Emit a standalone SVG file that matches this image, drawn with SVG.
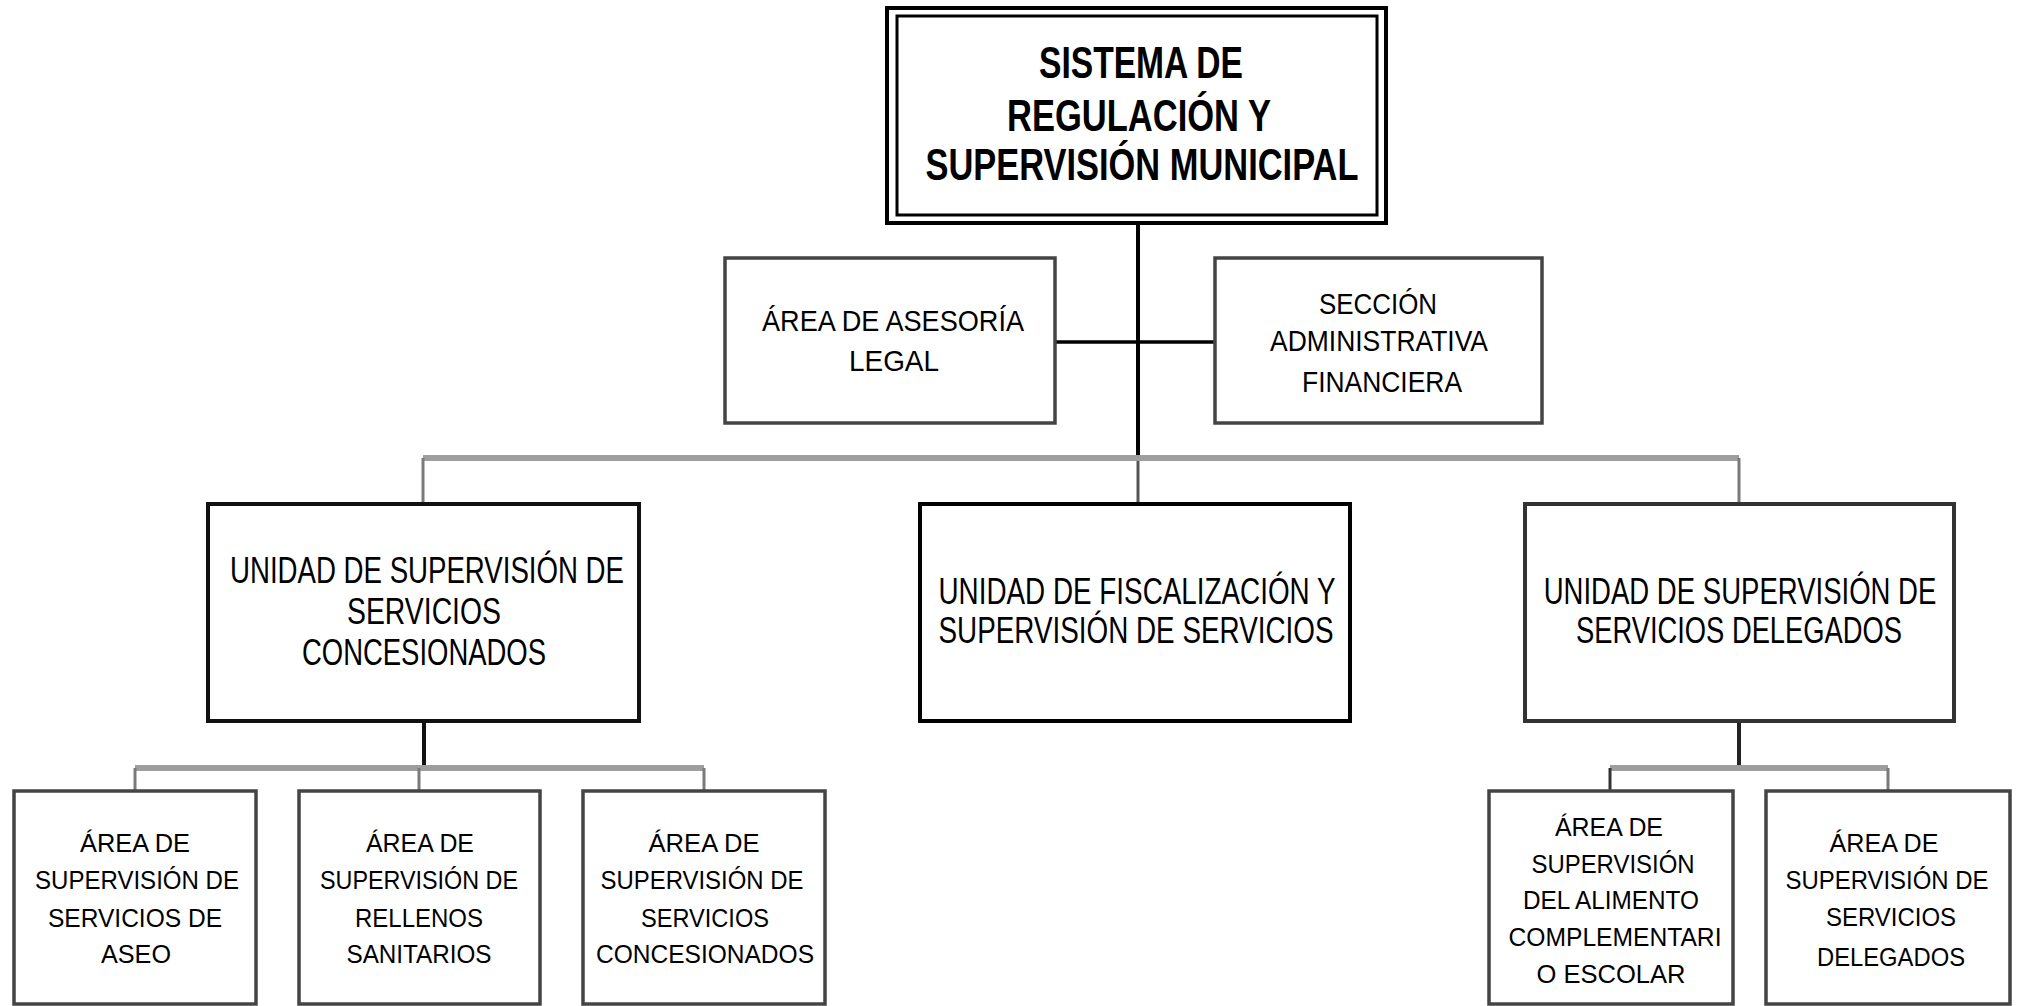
<svg xmlns="http://www.w3.org/2000/svg" width="2024" height="1006" viewBox="0 0 2024 1006">
<style>
text{font-family:"Liberation Sans","Arial",sans-serif;fill:#000;text-anchor:middle}
.t{font-size:44px;font-weight:bold}
.m{font-size:30px}
.u{font-size:37px}
.b{font-size:26px}
.box{fill:#fff;stroke:#444;stroke-width:3.5}
.ubox{fill:#fff;stroke:#111;stroke-width:4}
.bus{stroke:#9e9e9e;stroke-width:6;fill:none}
.drop{stroke:#7a7a7a;stroke-width:3;fill:none}
.blk{stroke:#000;stroke-width:4;fill:none}
</style>
<rect width="2024" height="1006" fill="#fff"/>
<g id="connectors">
<line class="blk" x1="1138" y1="223" x2="1138" y2="458"/>
<line class="drop" x1="1138" y1="458" x2="1138" y2="504" style="stroke:#555"/>
<line class="blk" x1="1055" y1="342" x2="1215" y2="342" style="stroke-width:3.5"/>
<line class="bus" x1="423" y1="458" x2="1739" y2="458"/>
<line class="drop" x1="423" y1="458" x2="423" y2="504"/>
<line class="drop" x1="1739" y1="458" x2="1739" y2="504"/>
<line class="blk" x1="424" y1="721" x2="424" y2="768" style="stroke:#111"/>
<line class="bus" x1="135" y1="768" x2="704" y2="768"/>
<line class="drop" x1="135" y1="768" x2="135" y2="791"/>
<line class="drop" x1="419" y1="768" x2="419" y2="791"/>
<line class="drop" x1="704" y1="768" x2="704" y2="791"/>
<line class="blk" x1="1739" y1="721" x2="1739" y2="768" style="stroke:#222"/>
<line class="bus" x1="1610" y1="768" x2="1888" y2="768"/>
<line class="drop" x1="1610" y1="768" x2="1610" y2="791" style="stroke:#333"/>
<line class="drop" x1="1888" y1="768" x2="1888" y2="791"/>
</g>
<g id="sistema">
<rect x="887" y="8" width="499" height="215" fill="#fff" stroke="#000" stroke-width="4"/>
<rect x="897" y="16" width="480" height="199" fill="none" stroke="#000" stroke-width="3"/>
<text class="t" x="1141" y="78" textLength="204" lengthAdjust="spacingAndGlyphs">SISTEMA DE</text>
<text class="t" x="1139" y="131" textLength="264" lengthAdjust="spacingAndGlyphs">REGULACIÓN Y</text>
<text class="t" x="1142" y="180" textLength="433" lengthAdjust="spacingAndGlyphs">SUPERVISIÓN MUNICIPAL</text>
</g>
<g id="asesoria">
<rect class="box" x="725" y="258" width="330" height="165"/>
<text class="m" x="893" y="331" textLength="262" lengthAdjust="spacingAndGlyphs">ÁREA DE ASESORÍA</text>
<text class="m" x="894" y="371" textLength="90" lengthAdjust="spacingAndGlyphs">LEGAL</text>
</g>
<g id="seccion">
<rect class="box" x="1215" y="258" width="327" height="165"/>
<text class="m" x="1378" y="314" textLength="118" lengthAdjust="spacingAndGlyphs">SECCIÓN</text>
<text class="m" x="1379" y="351" textLength="218" lengthAdjust="spacingAndGlyphs">ADMINISTRATIVA</text>
<text class="m" x="1382" y="392" textLength="160" lengthAdjust="spacingAndGlyphs">FINANCIERA</text>
</g>
<g id="unidad-concesionados">
<rect class="ubox" x="208" y="504" width="431" height="217"/>
<text class="u" x="427" y="583" textLength="394" lengthAdjust="spacingAndGlyphs">UNIDAD DE SUPERVISIÓN DE</text>
<text class="u" x="424" y="624" textLength="154" lengthAdjust="spacingAndGlyphs">SERVICIOS</text>
<text class="u" x="424" y="665" textLength="244" lengthAdjust="spacingAndGlyphs">CONCESIONADOS</text>
</g>
<g id="unidad-fiscalizacion">
<rect class="ubox" x="920" y="504" width="430" height="217" style="stroke:#000"/>
<text class="u" x="1137" y="604" textLength="397" lengthAdjust="spacingAndGlyphs">UNIDAD DE FISCALIZACIÓN Y</text>
<text class="u" x="1136" y="643" textLength="395" lengthAdjust="spacingAndGlyphs">SUPERVISIÓN DE SERVICIOS</text>
</g>
<g id="unidad-delegados">
<rect class="ubox" x="1525" y="504" width="429" height="217" style="stroke:#333"/>
<text class="u" transform="translate(1740,604) scale(0.7,1)" x="0" y="0" textLength="561" lengthAdjust="spacingAndGlyphs">UNIDAD DE SUPERVISIÓN DE</text>
<text class="u" x="1739" y="643" textLength="326" lengthAdjust="spacingAndGlyphs">SERVICIOS DELEGADOS</text>
</g>
<g id="area-aseo">
<rect class="box" x="14" y="791" width="242" height="213"/>
<text class="b" x="135" y="852" textLength="110" lengthAdjust="spacingAndGlyphs">ÁREA DE</text>
<text class="b" x="137" y="889" textLength="204" lengthAdjust="spacingAndGlyphs">SUPERVISIÓN DE</text>
<text class="b" x="135" y="927" textLength="174" lengthAdjust="spacingAndGlyphs">SERVICIOS DE</text>
<text class="b" x="136" y="963" textLength="70" lengthAdjust="spacingAndGlyphs">ASEO</text>
</g>
<g id="area-rellenos">
<rect class="box" x="299" y="791" width="241" height="213"/>
<text class="b" x="420" y="852" textLength="108" lengthAdjust="spacingAndGlyphs">ÁREA DE</text>
<text class="b" x="419" y="889" textLength="198" lengthAdjust="spacingAndGlyphs">SUPERVISIÓN DE</text>
<text class="b" x="419" y="927" textLength="128" lengthAdjust="spacingAndGlyphs">RELLENOS</text>
<text class="b" x="419" y="963" textLength="145" lengthAdjust="spacingAndGlyphs">SANITARIOS</text>
</g>
<g id="area-concesionados">
<rect class="box" x="583" y="791" width="242" height="213"/>
<text class="b" x="704" y="852" textLength="111" lengthAdjust="spacingAndGlyphs">ÁREA DE</text>
<text class="b" x="702" y="889" textLength="203" lengthAdjust="spacingAndGlyphs">SUPERVISIÓN DE</text>
<text class="b" x="705" y="927" textLength="128" lengthAdjust="spacingAndGlyphs">SERVICIOS</text>
<text class="b" x="705" y="963" textLength="218" lengthAdjust="spacingAndGlyphs">CONCESIONADOS</text>
</g>
<g id="area-alimento">
<rect class="box" x="1489" y="791" width="244" height="213"/>
<text class="b" x="1609" y="836" textLength="108" lengthAdjust="spacingAndGlyphs">ÁREA DE</text>
<text class="b" x="1613" y="873" textLength="163" lengthAdjust="spacingAndGlyphs">SUPERVISIÓN</text>
<text class="b" x="1611" y="909" textLength="176" lengthAdjust="spacingAndGlyphs">DEL ALIMENTO</text>
<text class="b" x="1615" y="946" textLength="213" lengthAdjust="spacingAndGlyphs">COMPLEMENTARI</text>
<text class="b" x="1611" y="983" textLength="149" lengthAdjust="spacingAndGlyphs">O ESCOLAR</text>
</g>
<g id="area-delegados">
<rect class="box" x="1766" y="791" width="244" height="213"/>
<text class="b" x="1884" y="852" textLength="109" lengthAdjust="spacingAndGlyphs">ÁREA DE</text>
<text class="b" x="1887" y="889" textLength="203" lengthAdjust="spacingAndGlyphs">SUPERVISIÓN DE</text>
<text class="b" x="1891" y="926" textLength="130" lengthAdjust="spacingAndGlyphs">SERVICIOS</text>
<text class="b" x="1891" y="966" textLength="148" lengthAdjust="spacingAndGlyphs">DELEGADOS</text>
</g>
</svg>
